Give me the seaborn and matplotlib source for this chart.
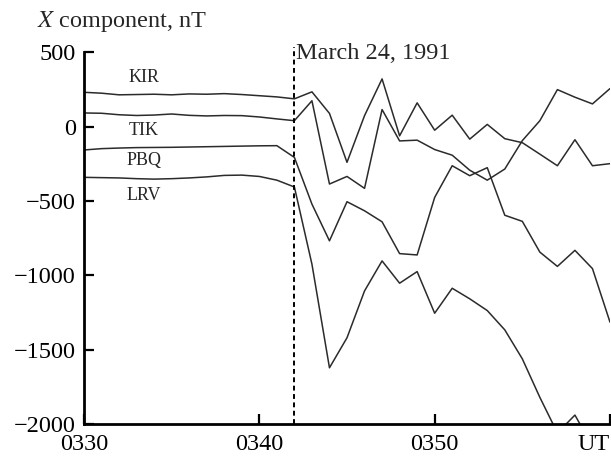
import numpy as np
import pandas as pd
import matplotlib
matplotlib.use("Agg")
import matplotlib.pyplot as plt
import seaborn as sns

# minutes after 03:30 UT
minutes = list(range(0, 31))
KIR = [231, 225, 214, 216, 218, 214, 220, 218, 222, 216, 208, 200, 187,
       234, 89, -240, 74, 321, -62, 160, -24, 77, -84, 15, -81, -108, -185,
       -263, -88, -263, -249]
TIK = [92, 90, 80, 75, 78, 85, 76, 72, 75, 74, 65, 52, 40,
       174, -386, -335, -415, 115, -96, -91, -154, -192, -293, -360, -285,
       -94, 40, 249, 198, 153, 256]
PBQ = [-157, -148, -144, -141, -140, -139, -137, -135, -133, -131, -129, -128, -207,
       -521, -768, -505, -566, -640, -854, -863, -476, -263, -330, -276, -596,
       -637, -844, -940, -832, -955, -1315]
LRV = [-341, -343, -345, -350, -353, -350, -345, -338, -328, -326, -335, -360, -406,
       -925, -1622, -1420, -1105, -903, -1053, -975, -1255, -1087, -1158, -1237,
       -1367, -1562, -1821, -2060, -1940, -2150, -2300]
stations = ["KIR", "TIK", "PBQ", "LRV"]
label_pos = {"KIR": (3.4, 333), "TIK": (3.4, -24), "PBQ": (3.4, -226), "LRV": (3.4, -462)}
event_minute = 12
event_label = "March 24, 1991"
xticks = [0, 10, 20, 30]
xticklabels = ["0330", "0340", "0350", "UT"]
yticks = [500, 0, -500, -1000, -1500, -2000]

series = {"KIR": KIR, "TIK": TIK, "PBQ": PBQ, "LRV": LRV}
df = pd.concat([pd.DataFrame({"t": minutes, "X": series[s], "station": s}) for s in stations],
               ignore_index=True)

sns.set_style("ticks")
plt.rcParams["font.family"] = ["Liberation Serif", "DejaVu Serif"]
plt.rcParams["mathtext.fontset"] = "stix"

fig = plt.figure(figsize=(6.11, 4.57), dpi=100)
ax = fig.add_axes([84 / 611, 1 - 424 / 457, (610 - 84) / 611, (424 - 52.3) / 457])

sns.lineplot(data=df, x="t", y="X", hue="station", units="station", estimator=None,
             palette={s: "#2b2b2b" for s in stations}, linewidth=1.1, legend=False, ax=ax)

ax.set_xlim(0, 30)
ax.set_ylim(-2000, 500)
ax.set_xticks(xticks)
ax.set_xticklabels(xticklabels)
ax.set_yticks(yticks)
ax.set_xlabel("")
ax.set_ylabel("")
for side in ["top", "right"]:
    ax.spines[side].set_visible(False)
for side in ["left", "bottom"]:
    ax.spines[side].set_linewidth(2.0)
    ax.spines[side].set_color("black")
ax.tick_params(axis="both", direction="in", length=7, width=1.6, labelsize=17.5,
               colors="black")
ax.tick_params(axis="x", pad=7)
ax.tick_params(axis="y", pad=6)
ax.get_xticklabels()[-1].set_ha("right")

ax.axvline(event_minute, ymin=0, ymax=1.015, color="black", linestyle=(0, (2.5, 1.8)),
           linewidth=1.4, clip_on=False)
ax.text(event_minute + 0.1, 455, event_label, fontsize=17.5, va="baseline", ha="left")

for s in stations:
    x, y = label_pos[s]
    ax.text(x, y, s, fontsize=13, ha="center", va="center")

fig.text(37 / 611, 1 - 27 / 457, "$X$ component, nT", fontsize=17.5, va="baseline", ha="left")

fig.savefig("out.png", dpi=100)
